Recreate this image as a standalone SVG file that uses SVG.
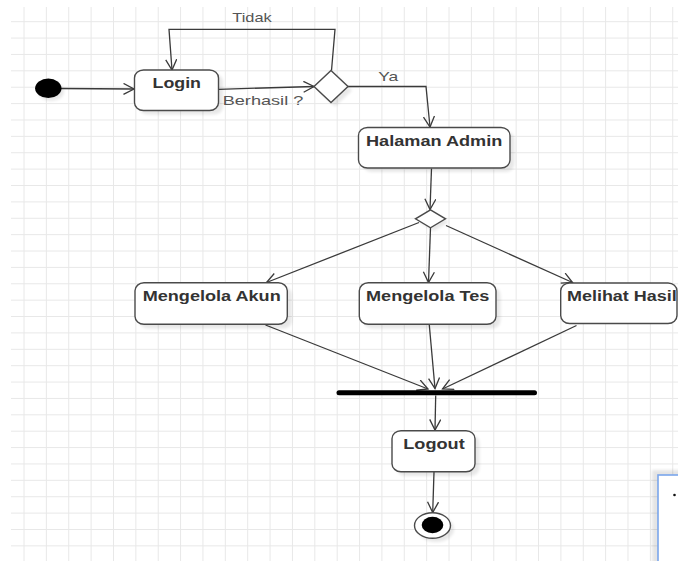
<svg xmlns="http://www.w3.org/2000/svg" width="678" height="561" viewBox="0 0 678 561">
<style>
.grid{stroke:#e8e8e8;stroke-width:1;fill:none}
.box{fill:#fff;stroke:#4a4a4a;stroke-width:1.4}
.shadow{fill:#000;opacity:0.09;filter:url(#blur)}
.lbl{font-family:"Liberation Sans",Arial,sans-serif;font-weight:bold;font-size:14px;fill:#333}
.note{font-family:"Liberation Sans",Arial,sans-serif;font-size:13px;fill:#555}
.edge{fill:none;stroke:#3a3a3a;stroke-width:1.3;marker-end:url(#arr)}
</style>
<defs>
<filter id="blur" x="-20%" y="-20%" width="140%" height="140%"><feGaussianBlur stdDeviation="1.6"/></filter>
<marker id="arr" markerUnits="userSpaceOnUse" markerWidth="14" markerHeight="14" refX="11" refY="6" orient="auto">
<path d="M0.5,0.5 L11,6 L0.5,11.5" fill="none" stroke="#3a3a3a" stroke-width="1.3"/>
</marker>
</defs>
<rect width="678" height="561" fill="#fff"/>
<path class="grid" d="M24,7V561M46.37,7V561M68.74,7V561M91.11,7V561M113.48,7V561M135.85,7V561M158.22,7V561M180.59,7V561M202.96,7V561M225.33,7V561M247.7,7V561M270.07,7V561M292.44,7V561M314.81,7V561M337.18,7V561M359.55,7V561M381.92,7V561M404.29,7V561M426.66,7V561M449.03,7V561M471.4,7V561M493.77,7V561M516.14,7V561M538.51,7V561M560.88,7V561M583.25,7V561M605.62,7V561M627.99,7V561M650.36,7V561M672.73,7V561
M11,21.7H678M11,38.08H678M11,54.46H678M11,70.84H678M11,87.22H678M11,103.6H678M11,119.98H678M11,136.36H678M11,152.74H678M11,169.12H678M11,185.5H678M11,201.88H678M11,218.26H678M11,234.64H678M11,251.02H678M11,267.4H678M11,283.78H678M11,300.16H678M11,316.54H678M11,332.92H678M11,349.3H678M11,365.68H678M11,382.06H678M11,398.44H678M11,414.82H678M11,431.2H678M11,447.58H678M11,463.96H678M11,480.34H678M11,496.72H678M11,513.1H678M11,529.48H678M11,545.86H678"/>

<g id="connectors">
<polyline class="edge" points="61,88.5 134,89"/>
<polyline class="edge" points="218.5,89.3 314,86.5"/>
<polyline class="edge" points="331.5,70.5 335,29.3 169,29.3 172,70"/>
<polyline class="edge" points="347.5,86.5 426,86.5 430,127"/>
<polyline class="edge" points="431.5,168.5 430,209.5"/>
<polyline class="edge" points="419,222.5 266.5,282.5"/>
<polyline class="edge" points="430.5,228 428.5,282.5"/>
<polyline class="edge" points="446,225.5 572.5,282.5"/>
<polyline class="edge" points="265.5,325 428,389"/>
<polyline class="edge" points="429.3,325 435,388.5"/>
<polyline class="edge" points="576.5,325.5 442.5,389"/>
<polyline class="edge" points="435.7,395.5 435,430"/>
<polyline class="edge" points="434,472 432.7,512.5"/>
<text class="note" x="232.3" y="21.7" textLength="39.4" lengthAdjust="spacingAndGlyphs">Tidak</text>
<text class="note" x="222.7" y="105" textLength="80.6" lengthAdjust="spacingAndGlyphs">Berhasil ?</text>
<text class="note" x="378.3" y="80.7" textLength="20" lengthAdjust="spacingAndGlyphs">Ya</text>
</g>

<g id="start">
<ellipse class="shadow" cx="51" cy="91.5" rx="13" ry="9.5"/>
<ellipse cx="48.3" cy="88.3" rx="13.2" ry="9.7" fill="#000"/>
</g>

<g id="login">
<rect class="shadow" x="139" y="74" width="84" height="40.5" rx="9" ry="8"/>
<rect class="box" x="134.5" y="70" width="84" height="40.5" rx="9" ry="8"/>
<text class="lbl" x="152.5" y="88" textLength="48.5" lengthAdjust="spacingAndGlyphs">Login</text>
</g>

<g id="decision1">
<polygon class="shadow" points="335,74 352,90.5 335,106.5 318,90.5"/>
<polygon class="box" points="331,70.5 348,86.5 331,102.5 314,86.5"/>
</g>

<g id="halaman-admin">
<rect class="shadow" x="363" y="131.5" width="151.5" height="40.5" rx="9" ry="8"/>
<rect class="box" x="358.5" y="127.5" width="151.5" height="40.5" rx="9" ry="8"/>
<text class="lbl" x="366" y="146" textLength="136.3" lengthAdjust="spacingAndGlyphs">Halaman Admin</text>
</g>

<g id="decision2">
<polygon class="shadow" points="434,213 449,222 434,231 419,222"/>
<polygon class="box" points="430.5,209.8 445.5,218.8 430.5,227.8 415.5,218.8"/>
</g>

<g id="mengelola-akun">
<rect class="shadow" x="139.5" y="287" width="152.5" height="41.5" rx="9" ry="8"/>
<rect class="box" x="135" y="282.8" width="152.3" height="41.5" rx="9" ry="8"/>
<text class="lbl" x="142.7" y="301" textLength="138" lengthAdjust="spacingAndGlyphs">Mengelola Akun</text>
</g>

<g id="mengelola-tes">
<rect class="shadow" x="363.5" y="287" width="137" height="41.5" rx="9" ry="8"/>
<rect class="box" x="359.3" y="282.8" width="136.7" height="41.5" rx="9" ry="8"/>
<text class="lbl" x="366" y="301" textLength="123.3" lengthAdjust="spacingAndGlyphs">Mengelola Tes</text>
</g>

<g id="melihat-hasil">
<rect class="box" x="560.7" y="283" width="116.3" height="40.5" rx="9" ry="8"/>
<text class="lbl" x="567" y="301" textLength="109.7" lengthAdjust="spacingAndGlyphs">Melihat Hasil</text>
</g>

<g id="fork">
<line x1="341" y1="397" x2="541" y2="397" stroke="#000" stroke-width="5" stroke-linecap="round" opacity="0.08" filter="url(#blur)"/>
<line x1="339" y1="392.8" x2="534.5" y2="392.8" stroke="#000" stroke-width="5" stroke-linecap="round"/>
</g>

<g id="logout">
<rect class="shadow" x="396.5" y="435" width="83" height="41" rx="9" ry="8"/>
<rect class="box" x="392" y="430.7" width="83" height="41" rx="9" ry="8"/>
<text class="lbl" x="403.3" y="448.7" textLength="61.4" lengthAdjust="spacingAndGlyphs">Logout</text>
</g>

<g id="end">
<ellipse class="shadow" cx="436" cy="529" rx="18" ry="13"/>
<ellipse cx="432.5" cy="525.5" rx="18" ry="12.8" fill="#fff" stroke="#4a4a4a" stroke-width="1.4"/>
<ellipse cx="432.5" cy="525" rx="10.8" ry="8.3" fill="#000"/>
</g>

<g id="panel">
<rect x="652" y="470" width="40" height="100" fill="#000" opacity="0.1" filter="url(#blur)"/>
<rect x="658" y="475" width="30" height="100" fill="#fff" stroke="#7aa6ec" stroke-width="1.6"/>
<circle cx="674.5" cy="495" r="1.3" fill="#111"/>
</g>
</svg>
